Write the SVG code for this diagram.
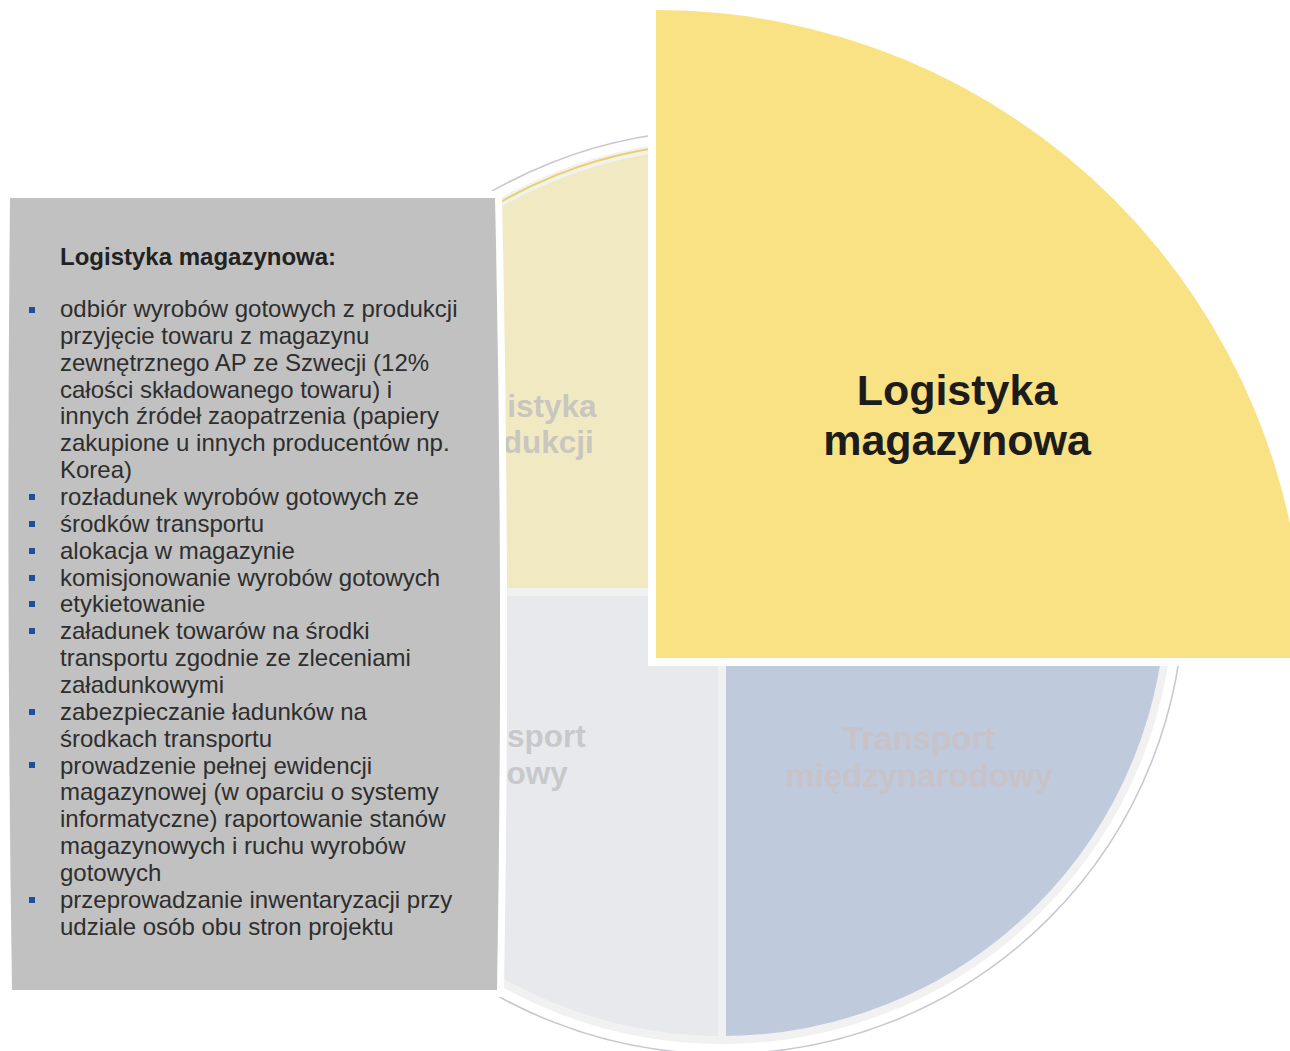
<svg xmlns="http://www.w3.org/2000/svg" width="1290" height="1051" viewBox="0 0 1290 1051">
  <style>
    .piece { stroke: #f1f1f1; stroke-width: 8; stroke-linejoin: miter; }
    .faded { font-family: "Liberation Sans", Arial, sans-serif; font-weight: bold; text-anchor: middle; }
    .body { font-family: "Liberation Sans", Arial, sans-serif; font-size: 24px; fill: #2e2e2e; }
    .bullet { fill: #1f4f9c; }
  </style>
  <rect x="0" y="0" width="1290" height="1051" fill="#ffffff"/>

  <g id="ring">
    <circle cx="722" cy="592" r="462" fill="none" stroke="#c6c9d1" stroke-width="1.6"/>
  </g>

  <g id="node-logistyka-produkcji">
    <path class="piece" d="M722,592 L274,592 A448,448 0 0 1 722,144 Z" fill="#f1e9c1"/>
    <path d="M274,592 A449,449 0 0 1 722,143" fill="none" stroke="#e8d266" stroke-width="2"/>
    <text class="faded" font-size="31.5" fill="#c9c6c0" x="523" y="417">Logistyka</text>
    <text class="faded" font-size="31.5" fill="#c9c6c0" x="523" y="453">produkcji</text>
  </g>

  <g id="node-transport-krajowy">
    <path class="piece" d="M722,592 L722,1040 A448,448 0 0 1 274,592 Z" fill="#e8e9ed"/>
    <text class="faded" font-size="31.5" fill="#c8c8cc" x="513" y="747">Transport</text>
    <text class="faded" font-size="31.5" fill="#c8c8cc" x="509" y="784">krajowy</text>
  </g>

  <g id="node-transport-miedzynarodowy">
    <path class="piece" d="M722,592 L1170,592 A448,448 0 0 1 722,1040 Z" fill="#bfcbdc"/>
    <text class="faded" font-size="33" fill="#c7c3c9" x="919" y="750">Transport</text>
    <text class="faded" font-size="33" fill="#c7c3c9" x="919" y="787">międzynarodowy</text>
  </g>

  <g id="node-logistyka-magazynowa">
    <path d="M656,658 L656,10 A648,648 0 0 1 1304,658 Z" fill="#f9e283" stroke="#ffffff" stroke-width="16" paint-order="stroke"/>
    <text class="faded" font-size="43" fill="#1c1c1c" x="957" y="405">Logistyka</text>
    <text class="faded" font-size="43" fill="#1c1c1c" x="957" y="455">magazynowa</text>
  </g>

  <g id="node-opis">
    <path d="M10,198 L495,198 Q504,594 497,990 L12,990 Q6,594 10,198 Z" fill="#c1c1c1" stroke="#ffffff" stroke-width="14" paint-order="stroke"/>
    <text x="60" y="265" font-family="Liberation Sans, Arial, sans-serif" font-weight="bold" font-size="24" fill="#222222">Logistyka magazynowa:</text>
    <g class="bullets">
      <rect class="bullet" x="29" y="307" width="6" height="6"/>
      <rect class="bullet" x="29" y="494" width="6" height="6"/>
      <rect class="bullet" x="29" y="521" width="6" height="6"/>
      <rect class="bullet" x="29" y="548" width="6" height="6"/>
      <rect class="bullet" x="29" y="575" width="6" height="6"/>
      <rect class="bullet" x="29" y="601" width="6" height="6"/>
      <rect class="bullet" x="29" y="628" width="6" height="6"/>
      <rect class="bullet" x="29" y="709" width="6" height="6"/>
      <rect class="bullet" x="29" y="762" width="6" height="6"/>
      <rect class="bullet" x="29" y="897" width="6" height="6"/>
    </g>
    <text class="body">
      <tspan x="60" y="317">odbiór wyrobów gotowych z produkcji</tspan>
      <tspan x="60" y="343.9">przyjęcie towaru z magazynu</tspan>
      <tspan x="60" y="370.7">zewnętrznego AP ze Szwecji (12%</tspan>
      <tspan x="60" y="397.6">całości składowanego towaru) i</tspan>
      <tspan x="60" y="424.4">innych źródeł zaopatrzenia (papiery</tspan>
      <tspan x="60" y="451.3">zakupione u innych producentów np.</tspan>
      <tspan x="60" y="478.1">Korea)</tspan>
      <tspan x="60" y="505">rozładunek wyrobów gotowych ze</tspan>
      <tspan x="60" y="531.8">środków transportu</tspan>
      <tspan x="60" y="558.7">alokacja w magazynie</tspan>
      <tspan x="60" y="585.5">komisjonowanie wyrobów gotowych</tspan>
      <tspan x="60" y="612.4">etykietowanie</tspan>
      <tspan x="60" y="639.2">załadunek towarów na środki</tspan>
      <tspan x="60" y="666.1">transportu zgodnie ze zleceniami</tspan>
      <tspan x="60" y="692.9">załadunkowymi</tspan>
      <tspan x="60" y="719.8">zabezpieczanie ładunków na</tspan>
      <tspan x="60" y="746.6">środkach transportu</tspan>
      <tspan x="60" y="773.5">prowadzenie pełnej ewidencji</tspan>
      <tspan x="60" y="800.3">magazynowej (w oparciu o systemy</tspan>
      <tspan x="60" y="827.2">informatyczne) raportowanie stanów</tspan>
      <tspan x="60" y="854">magazynowych i ruchu wyrobów</tspan>
      <tspan x="60" y="880.9">gotowych</tspan>
      <tspan x="60" y="907.7">przeprowadzanie inwentaryzacji przy</tspan>
      <tspan x="60" y="934.6">udziale osób obu stron projektu</tspan>
    </text>
  </g>

  <g id="connectors"/>
</svg>
